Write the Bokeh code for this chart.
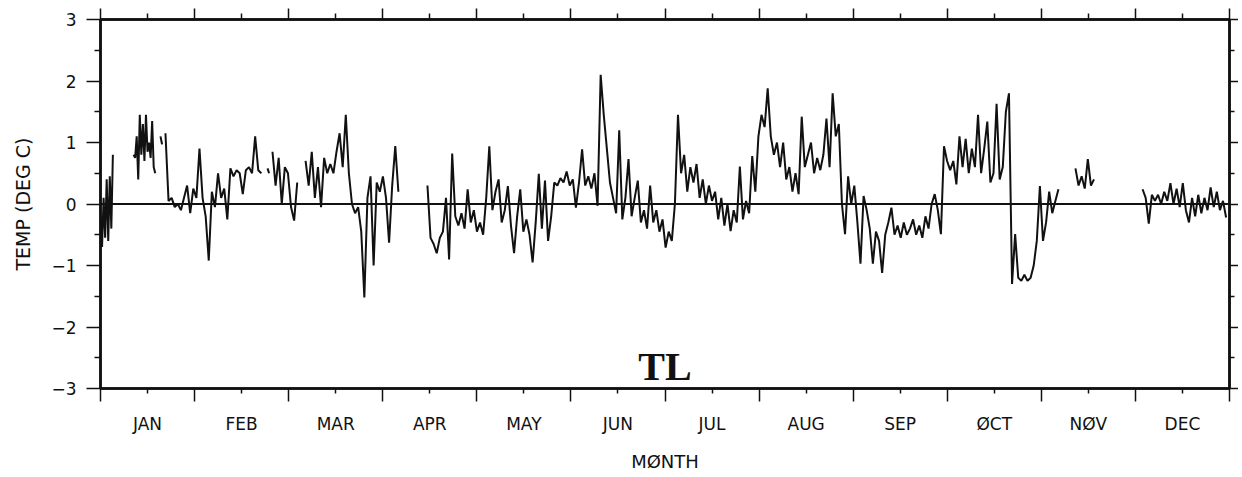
from bokeh.plotting import figure
from bokeh.models import (FixedTicker, LinearAxis, Range1d, Span, Label,
                          ColumnDataSource, CustomJSTickFormatter)
from bokeh.embed import file_html
from bokeh.resources import INLINE

# ---------------- data ----------------
months = ["JAN", "FEB", "MAR", "APR", "MAY", "JUN",
          "JUL", "AUG", "SEP", "ØCT", "NØV", "DEC"]
y_ticks = [-3, -2, -1, 0, 1, 2, 3]
y_minor = [-2.5, -1.5, -0.5, 0.5, 1.5, 2.5]

# each record segment: start day, sampling step (days), values (deg C)
seg_starts = [0.0, 10.7, 19.4, 21.0, 54.0, 55.6, 66.3, 105.7, 315.2, 336.9]
seg_steps = [0.5, 0.5, 0.5, 1.0, 0.5, 1.0, 1.0, 1.0, 1.0, 1.0]

seg1 = [-0.2, -0.7, 0.1, -0.55, 0.4, -0.6, 0.45, -0.4, 0.8]
seg2 = [0.8, 0.75, 1.1, 0.4, 1.45, 0.8, 1.3, 0.7, 1.45, 0.85, 1.0, 0.75,
        1.35, 0.6, 0.5]
seg3 = [1.1, 0.97]
seg4 = [1.15, 0.05, 0.1, -0.05, 0.0, -0.1, 0.1, 0.3, -0.15, 0.25,
        0.1, 0.9, 0.1, -0.2, -0.92, 0.2, -0.05, 0.5, 0.1, 0.25,
        -0.25, 0.58, 0.45, 0.55, 0.5, 0.16, 0.55, 0.6, 0.5, 1.1,
        0.55, 0.5]
seg5 = [0.58, 0.5]
seg6 = [0.85, 0.3, 0.75, 0.0, 0.6, 0.5, -0.05, -0.27, 0.35]
seg7 = [0.7, 0.3, 0.85, 0.1, 0.6, -0.05, 0.75, 0.5, 0.65, 0.5,
        0.85, 1.15, 0.6, 1.45, 0.5, 0.0, -0.15, -0.05, -0.45, -1.52,
        0.1, 0.45, -1.0, 0.35, 0.2, 0.45, 0.1, -0.63, 0.3, 0.94,
        0.2]
seg8 = [0.3, -0.55, -0.65, -0.8, -0.55, -0.45, 0.1, -0.9, 0.82, -0.2,
        -0.35, -0.15, -0.4, 0.24, -0.3, -0.1, -0.45, -0.3, -0.5, 0.1,
        0.94, -0.1, 0.2, 0.4, -0.3, -0.1, 0.29, -0.35, -0.8, -0.2,
        0.24, -0.45, -0.25, -0.5, -0.95, -0.3, 0.49, -0.4, 0.38, -0.6,
        -0.2, 0.35, 0.3, 0.42, 0.35, 0.53, 0.3, 0.4, -0.06, 0.35,
        0.89, 0.3, 0.45, 0.25, 0.5, -0.03, 2.1, 1.45, 0.9, 0.35,
        0.1, -0.15, 1.2, -0.25, 0.1, 0.73, -0.2, 0.1, 0.38, -0.3,
        -0.1, -0.4, 0.3, -0.3, -0.1, -0.45, -0.25, -0.71, -0.45, -0.6,
        0.0, 1.45, 0.5, 0.8, 0.2, 0.6, 0.35, 0.65, 0.1, 0.4,
        0.0, 0.3, 0.05, 0.2, -0.25, 0.1, -0.35, 0.0, -0.44, -0.1,
        -0.3, 0.61, -0.25, 0.05, -0.15, 0.78, 0.2, 1.1, 1.45, 1.25,
        1.88, 1.1, 0.8, 1.0, 0.6, 1.0, 0.4, 0.6, 0.2, 0.5,
        0.16, 1.42, 0.6, 0.8, 1.0, 0.5, 0.75, 0.55, 0.8, 1.39,
        0.6, 1.8, 1.1, 1.3, 0.0, -0.49, 0.45, 0.0, 0.3, -0.3,
        -0.97, 0.13, -0.1, -0.4, -0.97, -0.45, -0.6, -1.12, -0.5, -0.3,
        -0.06, -0.5, -0.35, -0.55, -0.3, -0.5, -0.4, -0.25, -0.5, -0.35,
        -0.55, -0.2, -0.4, 0.0, 0.16, -0.1, -0.49, 0.94, 0.7, 0.55,
        0.7, 0.32, 1.1, 0.6, 1.06, 0.5, 0.9, 0.6, 1.45, 0.5,
        0.9, 1.34, 0.35, 0.5, 1.63, 0.4, 0.6, 1.5, 1.8, -1.3,
        -0.49, -1.2, -1.25, -1.15, -1.25, -1.2, -1.0, -0.6, 0.29, -0.6,
        -0.3, 0.2, -0.15, 0.05, 0.24]
seg9 = [0.58, 0.3, 0.45, 0.25, 0.73, 0.3, 0.4]
seg10 = [0.24, 0.1, -0.32, 0.15, 0.05, 0.15, 0.0, 0.2, 0.05, 0.34,
         0.0, 0.25, -0.05, 0.34, -0.1, -0.3, 0.1, -0.2, 0.15, -0.15,
         0.1, -0.1, 0.27, -0.05, 0.2, -0.1, 0.05, -0.22]

segments = [seg1, seg2, seg3, seg4, seg5, seg6, seg7, seg8, seg9, seg10]
DAYS_IN_YEAR = 365.0

# ---------------- figure ----------------
p = figure(width=1238, height=474, output_backend="svg", toolbar_location=None,
           x_range=Range1d(0, 12), y_range=Range1d(-3, 3),
           x_axis_location=None, y_axis_location=None,
           min_border_left=100, min_border_right=9,
           min_border_top=19, min_border_bottom=85,
           background_fill_color="white", border_fill_color="white")
p.grid.visible = False
p.outline_line_color = "#111111"
p.outline_line_width = 2.5

FONT = "DejaVu Sans"
INK = "#111111"

boundaries = list(range(0, 13))
mids = [m + 0.5 for m in range(12)]
blank = CustomJSTickFormatter(code="return '';")

# bottom axis: month labels at mid-month, long ticks at month boundaries
bottom = LinearAxis(ticker=FixedTicker(ticks=mids, minor_ticks=boundaries),
                    formatter=CustomJSTickFormatter(args=dict(names=months),
                                                    code="return names[Math.floor(tick)];"),
                    axis_label="MØNTH")
bottom.major_tick_in = 0
bottom.major_tick_out = 5
bottom.minor_tick_in = 0
bottom.minor_tick_out = 13
bottom.major_label_standoff = 12
bottom.axis_label_standoff = 14
p.add_layout(bottom, "below")

top = LinearAxis(ticker=FixedTicker(ticks=boundaries, minor_ticks=mids),
                 formatter=blank)
top.major_tick_in = 0
top.major_tick_out = 11
top.minor_tick_in = 0
top.minor_tick_out = 6
p.add_layout(top, "above")

left = LinearAxis(ticker=FixedTicker(ticks=y_ticks, minor_ticks=y_minor),
                  axis_label="TEMP (DEG C)")
left.major_tick_in = 0
left.major_tick_out = 14
left.minor_tick_in = 0
left.minor_tick_out = 6
left.major_label_standoff = 10
left.axis_label_standoff = 14
p.add_layout(left, "left")

right = LinearAxis(ticker=FixedTicker(ticks=y_ticks, minor_ticks=y_minor),
                   formatter=blank)
right.major_tick_in = 0
right.major_tick_out = 9
right.minor_tick_in = 0
right.minor_tick_out = 5
p.add_layout(right, "right")

for ax in (bottom, top, left, right):
    ax.axis_line_color = INK
    ax.axis_line_width = 2.5
    ax.major_tick_line_color = INK
    ax.minor_tick_line_color = INK
    ax.major_tick_line_width = 1.5
    ax.minor_tick_line_width = 1.5
    ax.major_label_text_font = FONT
    ax.major_label_text_color = INK
    ax.axis_label_text_font = FONT
    ax.axis_label_text_font_style = "normal"
    ax.axis_label_text_color = INK

bottom.major_label_text_font_size = "17px"
left.major_label_text_font_size = "17px"
bottom.axis_label_text_font_size = "18px"
left.axis_label_text_font_size = "19px"

# zero line
p.add_layout(Span(location=0, dimension="width", line_color=INK, line_width=2))

# data segments
for start, step, vals in zip(seg_starts, seg_steps, segments):
    days = [start + i * step for i in range(len(vals))]
    src = ColumnDataSource(dict(x=[d * 12.0 / DAYS_IN_YEAR for d in days], y=vals))
    p.line("x", "y", source=src, line_color=INK, line_width=2.0)

# station tag
p.add_layout(Label(x=6.0, y=-2.64, text="TL", text_font="Liberation Serif",
                   text_font_style="bold", text_font_size="40px",
                   text_align="center", text_baseline="middle",
                   text_color=INK))

open("out.html", "w").write(file_html(p, INLINE))
